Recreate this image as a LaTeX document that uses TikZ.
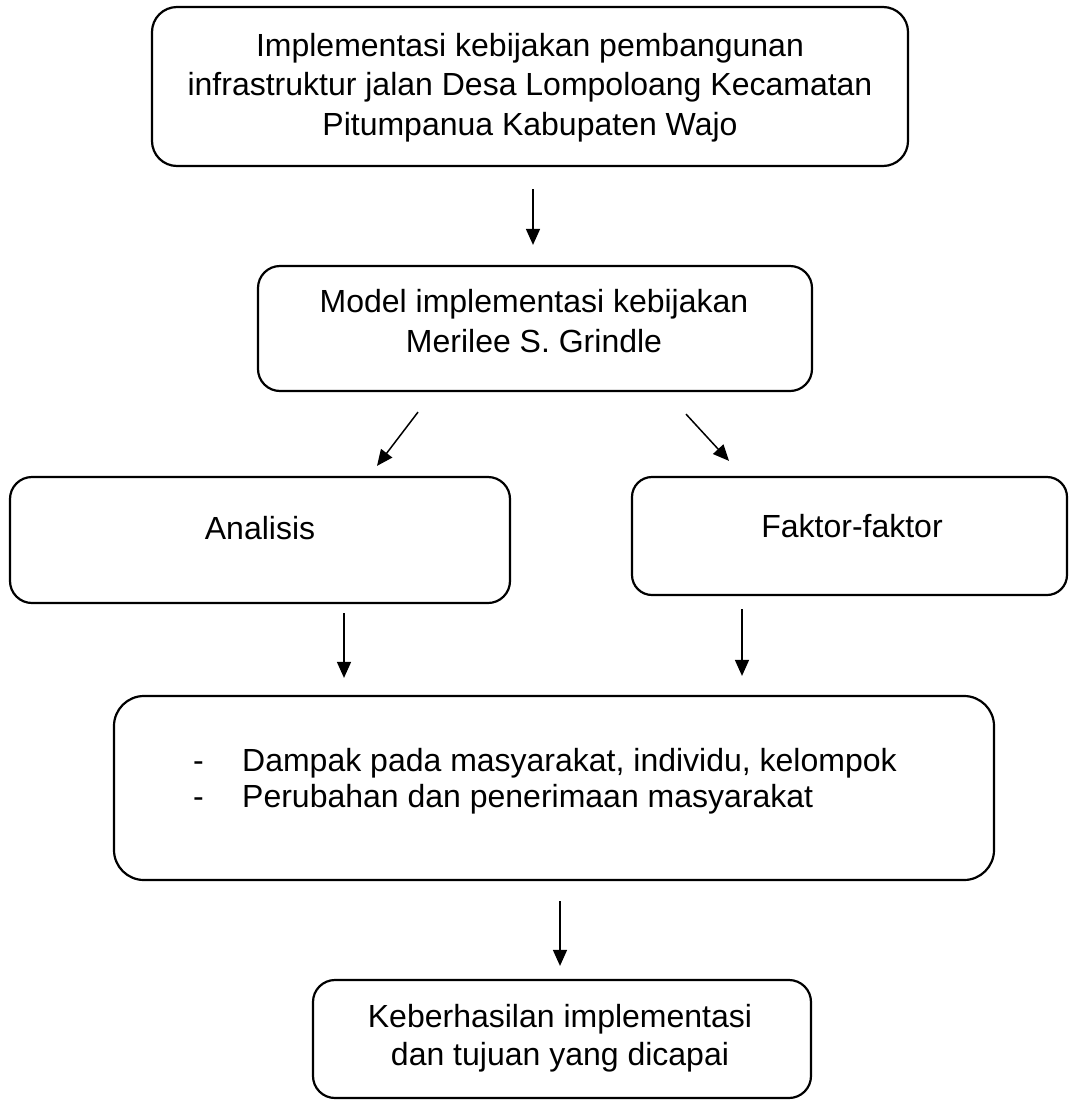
\documentclass[tikz,border=0pt]{standalone}
\usepackage{fontspec}
\setmainfont{Liberation Sans}
\usetikzlibrary{arrows.meta,calc}
\begin{document}
\begin{tikzpicture}[x=1pt,y=-1pt,
  box/.style={draw, line width=2.2pt, rounded corners=#1, inner sep=0pt},
  box/.default=22pt,
  txt/.style={font=\fontsize{32}{39.5}\selectfont, inner sep=0pt, anchor=base, align=center},
  arr/.style={line width=1.5pt, -{Triangle[length=16pt,width=14pt]}}]
\useasboundingbox (0,0) rectangle (1069,1101);

% boxes
\node[box=25pt, minimum width=756pt, minimum height=159pt] (top) at (530,86.5) {};
\node[box=22pt, minimum width=554pt, minimum height=125pt] (model) at (535,328.5) {};
\node[box=22pt, minimum width=500pt, minimum height=126pt] (anal) at (260,540) {};
\node[box=20pt, minimum width=435pt, minimum height=118pt] (fakt) at (849.5,536) {};
\node[box=30pt, minimum width=880pt, minimum height=184pt] (damp) at (554,788) {};
\node[box=22pt, minimum width=498pt, minimum height=118pt] (keb) at (562,1039) {};

% texts (anchor=base is the baseline of the last line)
\node[txt] (t1) at (530,135) {Implementasi kebijakan pembangunan\\infrastruktur jalan Desa Lompoloang Kecamatan\\Pitumpanua Kabupaten Wajo};
\node[txt] (t2) at (534,352) {Model implementasi kebijakan\\Merilee S. Grindle};
\node[txt] (t3) at (260,539) {Analisis};
\node[txt] (t4) at (852,537) {Faktor-faktor};
\node[txt, align=left, anchor=base west, font=\fontsize{32}{36}\selectfont] (t5) at (193,807)
  {\makebox[49pt][l]{-}Dampak pada masyarakat, individu, kelompok\\\makebox[49pt][l]{-}Perubahan dan penerimaan masyarakat};
\node[txt, font=\fontsize{32}{38}\selectfont] (t6) at (560,1065) {Keberhasilan implementasi\\dan tujuan yang dicapai};

% arrows
\draw[arr] ($(top.south)+(3,22)$) -- ($(model.north)+(-2,-20)$);
\draw[arr] ($(model.south)+(-117,20)$) -- ($(anal.north)+(117,-10)$);
\draw[arr] ($(model.south)+(151,22)$) -- ($(fakt.north)+(-120.5,-15)$);
\draw[arr] ($(anal.south)+(84,9)$) -- ($(damp.north)+(-210,-17)$);
\draw[arr] ($(fakt.south)+(-107.5,13)$) -- ($(damp.north)+(188,-19)$);
\draw[arr] ($(damp.south)+(6,20)$) -- ($(keb.north)+(-2,-13)$);
\end{tikzpicture}
\end{document}
